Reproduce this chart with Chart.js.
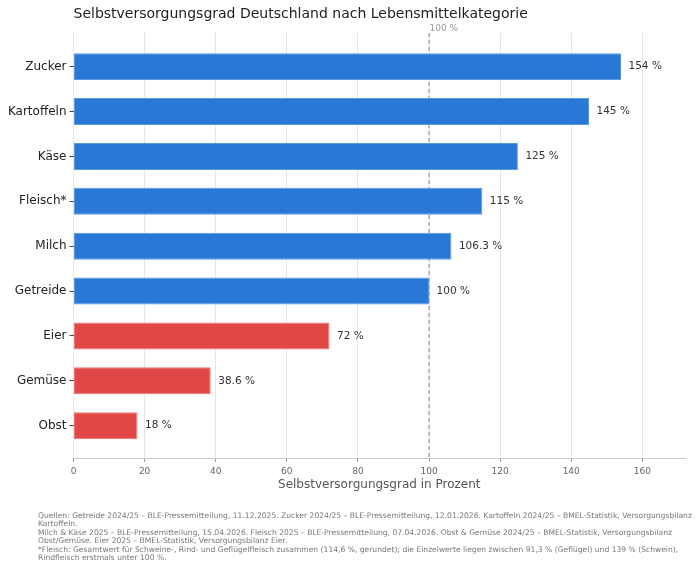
<!DOCTYPE html>
<html>
<head>
<meta charset="utf-8">
<script src="https://cdn.jsdelivr.net/npm/chart.js@4"></script>
<style>
  html, body { margin: 0; padding: 0; background: #fff; }
  #wrap { width: 700px; height: 571px; position: relative; }
</style>
</head>
<body>
<div id="wrap"><canvas id="chart"></canvas></div>
<script>
// data
const categories = ['Zucker', 'Kartoffeln', 'Käse', 'Fleisch*', 'Milch', 'Getreide', 'Eier', 'Gemüse', 'Obst'];
const values = [154, 145, 125, 115, 106.3, 100, 72, 38.6, 18];
const xTicks = [0, 20, 40, 60, 80, 100, 120, 140, 160];
const refLine = 100;

const titleText = 'Selbstversorgungsgrad Deutschland nach Lebensmittelkategorie';
const footerLines = [
  'Quellen: Getreide 2024/25 – BLE-Pressemitteilung, 11.12.2025. Zucker 2024/25 – BLE-Pressemitteilung, 12.01.2026. Kartoffeln 2024/25 – BMEL-Statistik, Versorgungsbilanz',
  'Kartoffeln.',
  'Milch & Käse 2025 – BLE-Pressemitteilung, 15.04.2026. Fleisch 2025 – BLE-Pressemitteilung, 07.04.2026. Obst & Gemüse 2024/25 – BMEL-Statistik, Versorgungsbilanz',
  'Obst/Gemüse. Eier 2025 – BMEL-Statistik, Versorgungsbilanz Eier.',
  '*Fleisch: Gesamtwert für Schweine-, Rind- und Geflügelfleisch zusammen (114,6 %, gerundet); die Einzelwerte liegen zwischen 91,3 % (Geflügel) und 139 % (Schwein),',
  'Rindfleisch erstmals unter 100 %.'
];

const FONT = '"DejaVu Sans", sans-serif';
const BLUE = '#2a78d6', BLUE_EDGE = '#5a98e2';
const RED = '#e04848', RED_EDGE = '#ea7474';

// ---- extras: title, footer, reference line, value labels ----
const extras = {
  id: 'extras',
  beforeDatasetsDraw(chart) {
    const { ctx, chartArea } = chart;
    const x = chart.scales.x.getPixelForValue(refLine);
    ctx.save();
    ctx.strokeStyle = '#8a8a8a';
    ctx.lineWidth = 1;
    ctx.setLineDash([4, 3]);
    ctx.beginPath();
    ctx.moveTo(x, chartArea.top);
    ctx.lineTo(x, chartArea.bottom);
    ctx.stroke();
    ctx.restore();
  },
  afterDatasetsDraw(chart) {
    const { ctx, chartArea } = chart;
    ctx.save();
    // value labels
    ctx.font = '10.5px ' + FONT;
    ctx.fillStyle = '#333';
    ctx.textBaseline = 'middle';
    ctx.textAlign = 'left';
    chart.getDatasetMeta(0).data.forEach((bar, i) => {
      ctx.fillText(values[i] + ' %', bar.x + 7.5, bar.y);
    });
    // ref line label
    const x = chart.scales.x.getPixelForValue(refLine);
    ctx.font = '9px ' + FONT;
    ctx.fillStyle = '#999';
    ctx.textBaseline = 'bottom';
    ctx.fillText(refLine + ' %', x + 0.5, chartArea.top);
    // title
    ctx.font = '14px ' + FONT;
    ctx.fillStyle = '#222';
    ctx.textBaseline = 'middle';
    ctx.fillText(titleText, chartArea.left, 14.5);
    // footer
    ctx.font = '7.6px ' + FONT;
    ctx.fillStyle = '#777';
    footerLines.forEach((line, i) => {
      ctx.fillText(line, 38, 516 + i * 8.5);
    });
    ctx.restore();
  }
};

new Chart(document.getElementById('chart'), {
  type: 'bar',
  data: {
    datasets: [{
      data: values.map((v, i) => ({ x: v, y: i })),
      backgroundColor: values.map(v => v >= 100 ? BLUE : RED),
      borderColor: values.map(v => v >= 100 ? BLUE_EDGE : RED_EDGE),
      borderWidth: 1,
      borderSkipped: false,
      barPercentage: 0.6,
      categoryPercentage: 1.0
    }]
  },
  options: {
    indexAxis: 'y',
    responsive: true,
    maintainAspectRatio: false,
    animation: false,
    layout: { padding: { top: 33, right: 15, left: 0, bottom: 79 } },
    plugins: { legend: { display: false }, tooltip: { enabled: false } },
    scales: {
      x: {
        type: 'linear',
        min: 0,
        max: 172,
        afterBuildTicks: s => { s.ticks = xTicks.map(v => ({ value: v })); },
        afterFit: s => { s.height = 34; },
        grid: { color: '#e6e6e6', tickColor: '#999', tickLength: 4 },
        border: { display: true, color: '#c8c8c8' },
        ticks: { color: '#666', padding: 4, font: { family: FONT, size: 9 } },
        title: {
          display: true,
          text: 'Selbstversorgungsgrad in Prozent',
          color: '#555',
          padding: { top: 4, bottom: 0 },
          font: { family: FONT, size: 12 }
        }
      },
      y: {
        type: 'linear',
        reverse: true,
        offset: false,
        min: -0.75,
        max: 8.72,
        afterBuildTicks: s => { s.ticks = categories.map((_, i) => ({ value: i })); },
        afterFit: s => { s.width = 73.5; },
        grid: { offset: false, drawOnChartArea: false, tickColor: '#444', tickLength: 4 },
        border: { display: false },
        ticks: {
          color: '#222',
          padding: 3,
          font: { family: FONT, size: 12 },
          callback: v => categories[v]
        }
      }
    }
  },
  plugins: [extras]
});
</script>
</body>
</html>
